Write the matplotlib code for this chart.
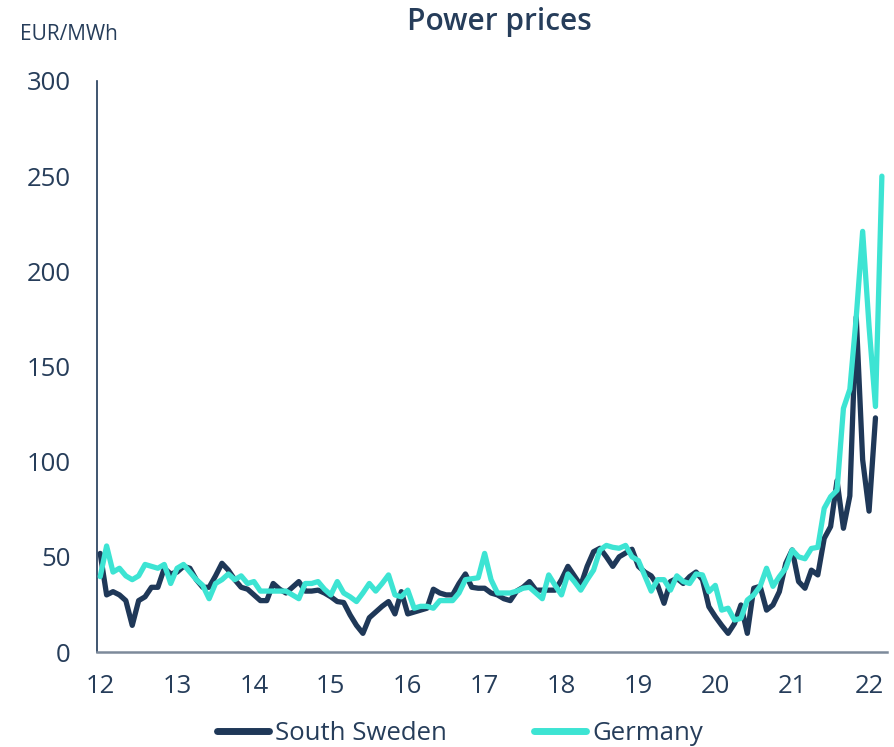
import matplotlib
matplotlib.use("Agg")
import matplotlib.pyplot as plt

# Monthly data, month index 0 = Jan 2012
south_sweden = [51.8, 30, 31.7, 30, 27, 14, 27, 29, 34, 34, 44, 41,
                42, 45, 44, 38, 34, 34, 40, 46.6, 43, 38, 34, 33,
                30, 27, 27, 36, 33, 31, 34, 37, 32, 32, 32.5, 31,
                29, 26.5, 26, 19.5, 14, 9.8, 18, 21, 24, 26.5, 20, 31.7,
                20, 21, 22, 23, 33, 31, 30, 30, 36, 41, 34, 33.5,
                33.5, 31, 30, 28, 27, 32, 34, 37, 32.5, 32.5, 32.5, 32.5,
                38, 45, 40, 35, 45, 52.7, 54.5, 50, 45, 50, 52, 54,
                45, 42, 40, 35, 25.6, 37, 38.7, 36, 39.6, 42, 38, 23.8,
                18.6, 14, 9.8, 15, 24.7, 9.8, 33.5, 34.5, 22, 24.7, 31.7, 46.6,
                53.6, 37, 33.5, 43, 40.5, 59.7, 65.9, 90, 65, 82, 176, 101,
                74, 123]
germany = [39.6, 55.7, 42, 44, 40, 38, 40, 46, 45, 44, 46, 36,
           44, 46, 42, 38, 35, 28, 36, 38, 41, 38, 40, 36,
           37, 32, 32, 32, 32, 32, 30, 28, 36, 36, 37, 33,
           30, 37, 31, 29, 26.5, 31, 36, 32, 36, 40.5, 30, 29,
           32.5, 23, 24, 24, 23, 27, 27, 27, 31, 38, 38.5, 39,
           51.8, 38, 31, 31, 31, 32, 33.5, 34, 31, 28, 40.5, 35,
           30, 41, 37, 32.5, 38, 43, 53.6, 56, 55, 54.5, 56, 50,
           48, 40, 32, 38, 38, 32.5, 40, 37, 36, 41, 40.5, 31.7,
           35, 22, 23, 16.8, 17.7, 27.3, 30, 34.5, 44, 34.5, 39.6, 44,
           53.6, 50, 49, 54.4, 55, 75.5, 81.6, 85, 128, 138, 176, 221,
           171, 129, 250]
year_labels = ["12", "13", "14", "15", "16", "17", "18", "19", "20", "21", "22"]
y_ticks = [0, 50, 100, 150, 200, 250, 300]

NAVY = "#1f3858"
TEAL = "#3de4d3"
TEXT = "#263d5a"
FONT = "Open Sans"

plt.rcParams["font.family"] = [FONT, "DejaVu Sans"]

fig = plt.figure(figsize=(8.95, 7.47), dpi=100)
ax = fig.add_axes([97/895, 1 - 652/747, (887-97)/895, (652-81)/747])

x_se = list(range(len(south_sweden)))
x_de = list(range(len(germany)))
ax.plot(x_se, south_sweden, color=NAVY, lw=3.8, solid_joinstyle="round",
        solid_capstyle="round", label="South Sweden", zorder=2)
ax.plot(x_de, germany, color=TEAL, lw=3.8, solid_joinstyle="round",
        solid_capstyle="round", label="Germany", zorder=3)

ax.set_ylim(0, 300)
ax.set_xlim(-0.5, 122.8)
ax.set_yticks(y_ticks)
ax.set_yticklabels([str(v) for v in y_ticks])
ax.set_xticks([12 * i for i in range(len(year_labels))])
ax.set_xticklabels(year_labels)
ax.tick_params(axis="both", length=0, labelsize=18.5, colors=TEXT)
ax.tick_params(axis="y", pad=19)
ax.tick_params(axis="x", pad=16)

for s in ["top", "right"]:
    ax.spines[s].set_visible(False)
ax.spines["left"].set_color(NAVY)
ax.spines["left"].set_linewidth(1.2)
ax.spines["bottom"].set_color("#7d8a9b")
ax.spines["bottom"].set_linewidth(1.8)

fig.text(499/895, 1 - 22/747, "Power prices", ha="center", va="center",
         fontsize=21.5, fontweight="semibold", color=TEXT)
fig.text(20/895, 1 - 35/747, "EUR/MWh", ha="left", va="center",
         fontsize=15, color=TEXT)

leg = fig.legend(loc="center", bbox_to_anchor=(460/895, 1 - 733/747), ncol=2,
                 frameon=False, fontsize=18.5, handlelength=2.0,
                 handletextpad=0.25, columnspacing=3.4)
for t in leg.get_texts():
    t.set_color(TEXT)
for h in leg.get_lines():
    h.set_linewidth(5)

fig.savefig("out.png", dpi=100)
